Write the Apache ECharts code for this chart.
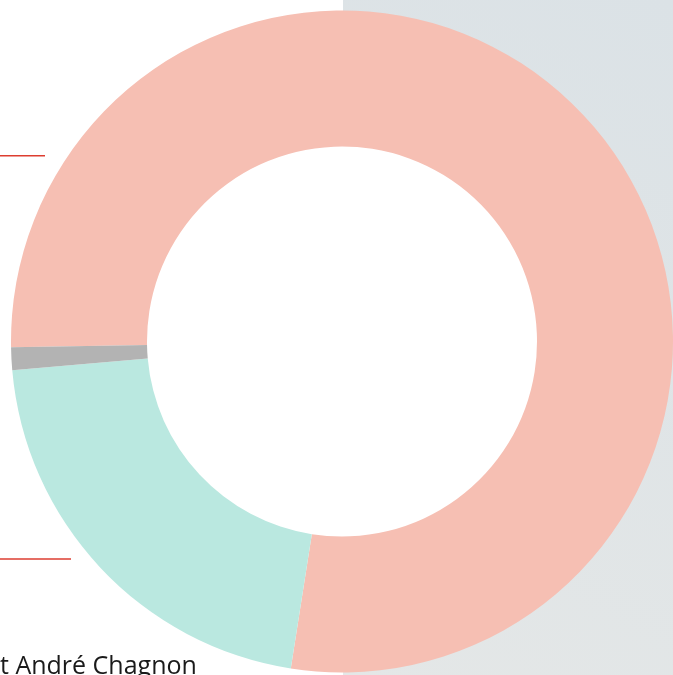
<!DOCTYPE html>
<html>
<head>
<meta charset="utf-8">
<script src="https://cdn.jsdelivr.net/npm/echarts@6/dist/echarts.min.js"></script>
<style>
html,body{margin:0;padding:0;background:#fff;}
#chart{width:673px;height:675px;}
</style>
</head>
<body>
<div id="chart"></div>
<script>
const categories = ['Catégorie A', 'Catégorie B', 'Catégorie C'];
const values = [77.75, 21.14, 1.11];
const colors = ['#f6bfb3', '#bae8e0', '#b3b3b3'];
const footerText = 't André Chagnon';

const chart = echarts.init(document.getElementById('chart'));
chart.setOption({
  animation: false,
  backgroundColor: '#ffffff',
  graphic: [
    {
      type: 'rect', z: -10, silent: true,
      shape: { x: 343, y: 0, width: 330, height: 675 },
      style: {
        fill: new echarts.graphic.LinearGradient(1, 0, 0, 1, [
          { offset: 0, color: '#dbe2e6' },
          { offset: 1, color: '#e4e7e7' }
        ])
      }
    },
    {
      type: 'circle', z: -5, silent: true,
      shape: { cx: 342, cy: 341.5, r: 196 },
      style: { fill: '#ffffff' }
    },
    { type: 'rect', silent: true, shape: { x: 0, y: 155, width: 45, height: 1.6 }, style: { fill: '#dd3d30' } },
    { type: 'rect', silent: true, shape: { x: 0, y: 558.2, width: 71, height: 1.6 }, style: { fill: '#dd3d30' } },
    {
      type: 'text', silent: true, left: 0, top: 654,
      style: { text: footerText, fill: '#1a1a1a', font: '25px "Open Sans", sans-serif' }
    }
  ],
  series: [{
    type: 'pie',
    center: [342, 341.5],
    radius: [195, 331],
    startAngle: 181,
    clockwise: true,
    label: { show: false },
    labelLine: { show: false },
    itemStyle: { borderWidth: 0 },
    emphasis: { disabled: true },
    data: categories.map((c, i) => ({ name: c, value: values[i], itemStyle: { color: colors[i] } }))
  }]
});
</script>
</body>
</html>
